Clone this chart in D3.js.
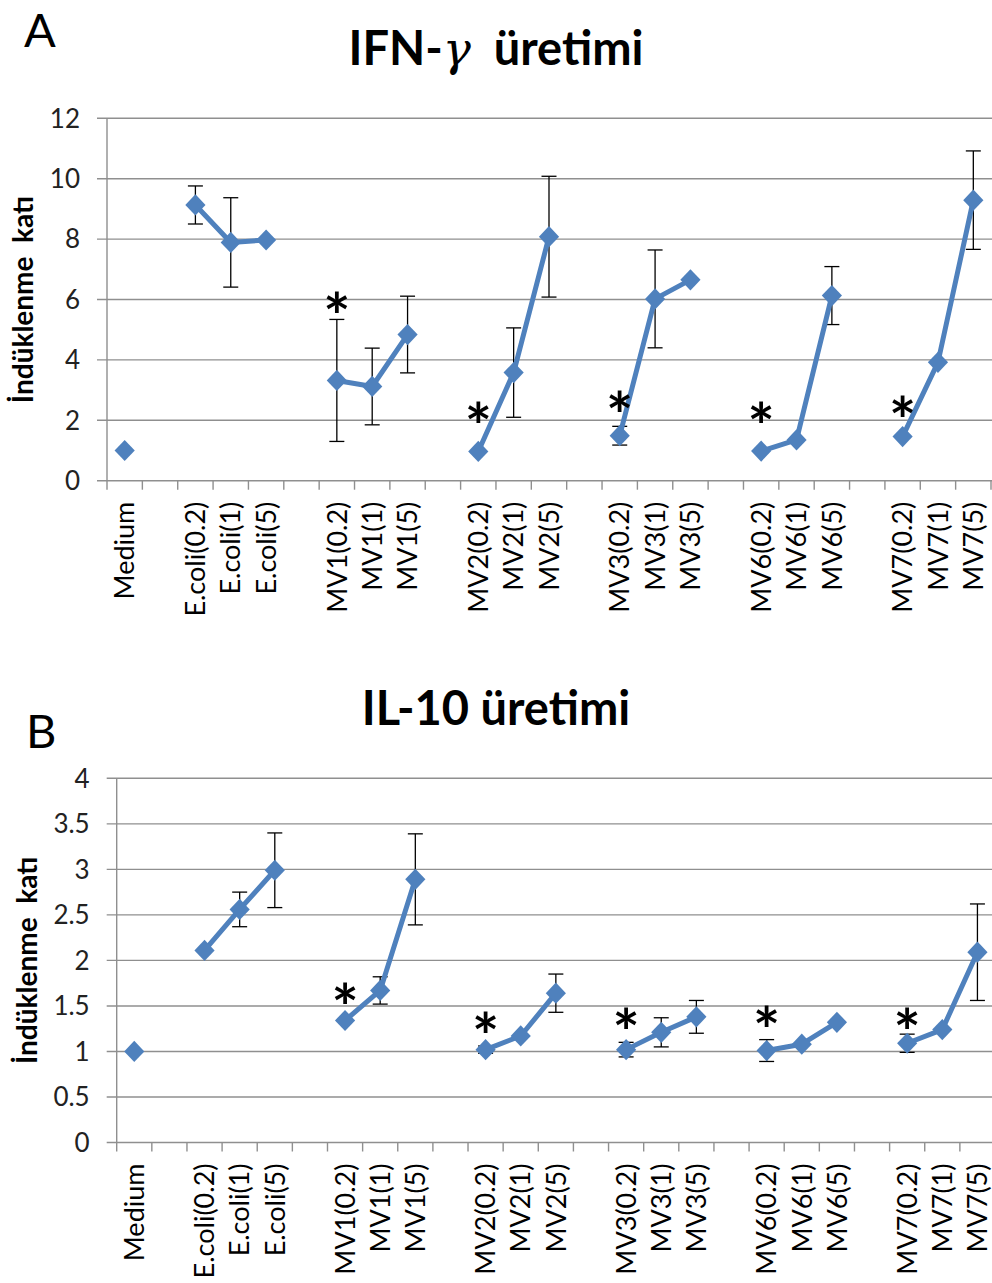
<!DOCTYPE html>
<html>
<head>
<meta charset="utf-8">
<script src="https://cdn.jsdelivr.net/npm/d3@7"></script>
<style>
  html, body { margin: 0; padding: 0; background: #fff; }
  svg { display: block; }
  text { font-family: Lato, "Open Sans", sans-serif; fill: #000; }
</style>
</head>
<body>
<svg id="fig" width="992" height="1283"></svg>
<script>
// Stimulation conditions along the x axis; empty entries are spacer slots between groups.
const categories = [
  "Medium", "",
  "E.coli(0.2)", "E.coli(1)", "E.coli(5)", "",
  "MV1(0.2)", "MV1(1)", "MV1(5)", "",
  "MV2(0.2)", "MV2(1)", "MV2(5)", "",
  "MV3(0.2)", "MV3(1)", "MV3(5)", "",
  "MV6(0.2)", "MV6(1)", "MV6(5)", "",
  "MV7(0.2)", "MV7(1)", "MV7(5)"
];

// Panel A: IFN-γ fold induction (mean) and error (±)
const ifnValues = [1.0, null, 9.13, 7.89, 7.97, null, 3.32, 3.12, 4.84, null, 0.97, 3.58, 8.08, null, 1.49, 6.02, 6.65, null, 0.98, 1.35, 6.13, null, 1.46, 3.92, 9.29];
const ifnErrors = [0, null, 0.63, 1.48, 0, null, 2.02, 1.27, 1.27, null, 0, 1.48, 2.0, null, 0.31, 1.62, 0, null, 0, 0, 0.96, null, 0, 0, 1.63];
const ifnTicks = [0, 2, 4, 6, 8, 10, 12];
// significance marks: category and height (in fold units) of the asterisk
const ifnSignif = [
  { cat: "MV1(0.2)", at: 5.88 },
  { cat: "MV2(0.2)", at: 2.24 },
  { cat: "MV3(0.2)", at: 2.61 },
  { cat: "MV6(0.2)", at: 2.24 },
  { cat: "MV7(0.2)", at: 2.44 }
];

// Panel B: IL-10 fold induction (mean) and error (±)
const il10Values = [1.0, null, 2.11, 2.56, 2.99, null, 1.34, 1.67, 2.89, null, 1.02, 1.17, 1.64, null, 1.02, 1.21, 1.38, null, 1.01, 1.08, 1.32, null, 1.09, 1.24, 2.09];
const il10Errors = [0, null, 0, 0.19, 0.41, null, 0, 0.15, 0.5, null, 0.04, 0, 0.21, null, 0.08, 0.16, 0.18, null, 0.12, 0, 0, null, 0.1, 0, 0.53];
const il10Ticks = [0, 0.5, 1, 1.5, 2, 2.5, 3, 3.5, 4];
const il10Signif = [
  { cat: "MV1(0.2)", at: 1.63 },
  { cat: "MV2(0.2)", at: 1.31 },
  { cat: "MV3(0.2)", at: 1.36 },
  { cat: "MV6(0.2)", at: 1.38 },
  { cat: "MV7(0.2)", at: 1.36 }
];

const yLabel = "İndüklenme  katı";
const BLUE = "#4F81BD";
const GRID = "#8f8f8f";

const svg = d3.select("#fig");

function drawPanel(cfg) {
  const g = svg.append("g");
  const x = d3.scaleBand().domain(d3.range(categories.length)).range([cfg.left, cfg.right]).padding(0);
  const y = d3.scaleLinear().domain([0, cfg.max]).range([cfg.bottom, cfg.top]);

  // horizontal gridlines (with short outside ticks to the left)
  g.append("g").selectAll("line").data(cfg.ticks).join("line")
    .attr("x1", cfg.left - 10).attr("x2", 992)
    .attr("y1", d => y(d)).attr("y2", d => y(d))
    .attr("stroke", GRID).attr("stroke-width", 1.4);

  // y axis line
  g.append("line")
    .attr("x1", cfg.left).attr("x2", cfg.left)
    .attr("y1", y(cfg.max)).attr("y2", y(0))
    .attr("stroke", GRID).attr("stroke-width", 1.4);

  // y tick labels
  g.append("g").selectAll("text").data(cfg.ticks).join("text")
    .attr("x", cfg.left - 27).attr("y", d => y(d))
    .attr("dy", "0.36em")
    .attr("text-anchor", "end")
    .style("font-size", "26px")
    .style("fill", "#222")
    .text(d => d);

  // x category ticks at band boundaries
  const bounds = d3.range(categories.length + 1).map(i => cfg.left + i * x.step());
  g.append("g").selectAll("line").data(bounds).join("line")
    .attr("x1", d => d).attr("x2", d => d)
    .attr("y1", y(0)).attr("y2", y(0) + 9)
    .attr("stroke", GRID).attr("stroke-width", 1.4);

  // rotated category labels
  g.append("g").selectAll("text").data(categories).join("text")
    .attr("transform", (d, i) => `translate(${x(i) + x.bandwidth() / 2},${y(0) + 21}) rotate(-90)`)
    .attr("dy", "0.36em")
    .attr("text-anchor", "end")
    .style("font-size", "27px")
    .text(d => d);

  // y axis title
  g.append("text")
    .attr("transform", `translate(${cfg.yTitleX},${(y(0) + y(cfg.max)) / 2}) rotate(-90)`)
    .attr("text-anchor", "middle")
    .style("font-size", "28px")
    .style("font-weight", "700")
    .style("white-space", "pre")
    .attr("xml:space", "preserve")
    .text(yLabel);

  // panel letter
  g.append("text")
    .attr("x", cfg.letterX).attr("y", cfg.letterY)
    .style("font-size", "47px")
    .text(cfg.letter);

  // panel title
  const t = g.append("text")
    .attr("x", 496).attr("y", cfg.titleY)
    .attr("text-anchor", "middle")
    .attr("xml:space", "preserve")
    .style("font-size", "47px")
    .style("font-weight", "700");
  cfg.title.forEach(part => {
    const s = t.append("tspan").text(part.text);
    if (part.greek) s.style("font-family", "'DejaVu Serif', serif").style("font-style", "italic").style("font-weight", "400");
  });

  const pts = cfg.values.map((v, i) => ({ i, v, e: cfg.errors[i] }));
  const valid = pts.filter(p => p.v != null);

  // error bars
  const eb = g.append("g").attr("stroke", "#000").attr("stroke-width", 1.3);
  valid.filter(p => p.e > 0).forEach(p => {
    const cx = x(p.i) + x.bandwidth() / 2;
    eb.append("line").attr("x1", cx).attr("x2", cx).attr("y1", y(p.v + p.e)).attr("y2", y(p.v - p.e));
    eb.append("line").attr("x1", cx - 7.5).attr("x2", cx + 7.5).attr("y1", y(p.v + p.e)).attr("y2", y(p.v + p.e));
    eb.append("line").attr("x1", cx - 7.5).attr("x2", cx + 7.5).attr("y1", y(p.v - p.e)).attr("y2", y(p.v - p.e));
  });

  // connecting lines within each group
  const line = d3.line()
    .defined(p => p.v != null)
    .x(p => x(p.i) + x.bandwidth() / 2)
    .y(p => y(p.v));
  g.append("path")
    .attr("d", line(pts))
    .attr("fill", "none")
    .attr("stroke", BLUE)
    .attr("stroke-width", 5)
    .attr("stroke-linejoin", "round");

  // diamond markers
  const diamond = d3.symbol().type(d3.symbolDiamond2).size(260);
  g.append("g").selectAll("path").data(valid).join("path")
    .attr("transform", p => `translate(${x(p.i) + x.bandwidth() / 2},${y(p.v)}) scale(1,1.05)`)
    .attr("d", diamond)
    .attr("fill", BLUE);

  // significance asterisks
  g.append("g").selectAll("text").data(cfg.signif).join("text")
    .attr("x", d => x(categories.indexOf(d.cat)) + x.bandwidth() / 2)
    .attr("y", d => y(d.at))
    .attr("dy", "0.58em")
    .attr("text-anchor", "middle")
    .style("font-size", "64px")
    .style("font-weight", "700")
    .text("*");
}

drawPanel({
  letter: "A", letterX: 24, letterY: 47,
  title: [{ text: "IFN-" }, { text: "γ", greek: true }, { text: "  üretimi" }],
  titleY: 65,
  left: 107, right: 991, top: 118.3, bottom: 480.7, max: 12,
  ticks: ifnTicks, values: ifnValues, errors: ifnErrors, signif: ifnSignif,
  yTitleX: 33
});

drawPanel({
  letter: "B", letterX: 26, letterY: 748,
  title: [{ text: "IL-10 üretimi" }],
  titleY: 725,
  left: 116.7, right: 995, top: 778.3, bottom: 1142.5, max: 4,
  ticks: il10Ticks, values: il10Values, errors: il10Errors, signif: il10Signif,
  yTitleX: 37
});
</script>
</body>
</html>
